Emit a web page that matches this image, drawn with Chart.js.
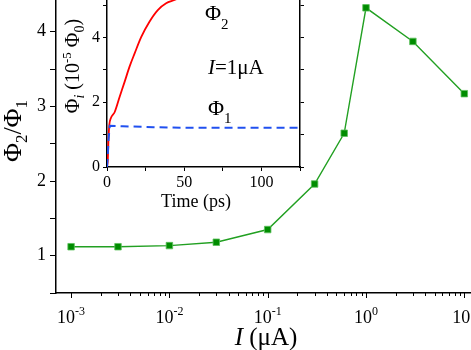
<!DOCTYPE html>
<html>
<head>
<meta charset="utf-8">
<script src="https://cdn.jsdelivr.net/npm/chart.js@4.4.1/dist/chart.umd.min.js"></script>
<style>
  html, body { margin: 0; padding: 0; background: #fff; overflow: hidden; }
  #wrap { position: relative; width: 471px; height: 350px; overflow: hidden; }
  #main { position: absolute; left: 0; top: -11px; }
  #inset { position: absolute; left: 60px; top: -11px; }
</style>
</head>
<body>
<div id="wrap">
  <canvas id="main" width="568" height="361"></canvas>
  <canvas id="inset" width="248" height="230"></canvas>
</div>
<script>
var SERIF = '"Liberation Serif", "Times New Roman", serif';

// main panel: flux ratio vs bias current
var currents = [0.001, 0.003, 0.01, 0.03, 0.1, 0.3, 0.6, 1, 3, 10];
var fluxRatio = [1.12, 1.12, 1.135, 1.18, 1.35, 1.96, 2.64, 4.32, 3.87, 3.17];
var ratioTicks = [0.5, 1, 1.5, 2, 2.5, 3, 3.5, 4, 4.5];
var ratioLabels = ["", "1", "", "2", "", "3", "", "4", ""];
var currentDecades = [-3, -2, -1, 0, 1, 2];

// inset: flux vs time at I = 1 uA
var phi2Time = [0, 0.5, 1, 1.5, 2.4, 5, 8.2, 11.4, 14.6, 17.9, 22.2, 27.5, 32.9, 38.3, 43.7, 50, 60, 75, 100, 125];
var phi2Flux = [0, 0.2, 0.9, 1.3, 1.5, 1.7, 2.17, 2.63, 3.1, 3.51, 4.02, 4.49, 4.85, 5.06, 5.16, 5.3, 5.45, 5.6, 5.7, 5.72];
var phi1Time = [0, 0.5, 1, 1.8, 10, 30, 53, 125];
var phi1Flux = [0, 0.35, 0.85, 1.27, 1.26, 1.23, 1.21, 1.21];
var timeTicks = [0, 25, 50, 75, 100, 125];
var timeLabels = ["0", "", "50", "", "100", ""];
var fluxTicks = [0, 1, 2, 3, 4, 5];
var fluxLabels = ["0", "", "2", "", "4", ""];

function points(xs, ys) {
  return xs.map(function (x, i) { return { x: x, y: ys[i] }; });
}

// force axis sizes so the plot areas land where the figure has them
function fixSize(w, h) {
  return function (scale) {
    if (w !== null) scale.width = w;
    if (h !== null) scale.height = h;
    scale.paddingLeft = scale.paddingRight = scale.paddingTop = scale.paddingBottom = 0;
  };
}

function setTicks(list) {
  return function (scale) {
    scale.ticks = list.map(function (v) { return { value: v }; });
  };
}

// text with sub/superscripts: parts = [{t, size, italic, dy}]
function richText(ctx, parts, x, y, align, angle) {
  ctx.save();
  ctx.translate(x, y);
  if (angle) ctx.rotate(angle);
  ctx.textBaseline = "alphabetic";
  ctx.textAlign = "left";
  ctx.fillStyle = "#000";
  var total = 0;
  parts.forEach(function (p) {
    ctx.font = (p.italic ? "italic " : "") + p.size + "px " + SERIF;
    p.w = ctx.measureText(p.t).width;
    total += p.w;
  });
  var cx = align === "center" ? -total / 2 : 0;
  parts.forEach(function (p) {
    ctx.font = (p.italic ? "italic " : "") + p.size + "px " + SERIF;
    ctx.fillText(p.t, cx, p.dy || 0);
    cx += p.w;
  });
  ctx.restore();
}

var mainDecor = {
  id: "mainDecor",
  afterDraw: function (chart) {
    var ctx = chart.ctx;
    var xs = chart.scales.x;
    var bottom = chart.chartArea.bottom;
    ctx.save();
    ctx.strokeStyle = "#000";
    ctx.lineWidth = 1;
    currentDecades.forEach(function (d) {
      for (var m = 1; m <= 9; m++) {
        var v = m * Math.pow(10, d);
        if (v < xs.min || v > xs.max * 1.0001) continue;
        var px = Math.round(xs.getPixelForValue(v)) + 0.5;
        ctx.beginPath();
        ctx.moveTo(px, bottom);
        ctx.lineTo(px, bottom + (m === 1 ? 5 : 3));
        ctx.stroke();
      }
      var cx = xs.getPixelForValue(Math.pow(10, d));
      richText(ctx, [{ t: "10", size: 18 }, { t: String(d), size: 12, dy: -8 }], cx, 334, "center");
    });
    ctx.restore();

    richText(ctx, [{ t: "I", size: 25, italic: true }, { t: " (\u03bcA)", size: 25 }], 266, 356, "center");
    richText(ctx, [
      { t: "\u03a6", size: 26 }, { t: "2", size: 17, dy: 6 }, { t: "/", size: 26 },
      { t: "\u03a6", size: 26 }, { t: "1", size: 17, dy: 6 }
    ], 21, 142, "center", -Math.PI / 2);
  }
};

var insetDecor = {
  id: "insetDecor",
  afterDraw: function (chart) {
    var ctx = chart.ctx;
    richText(ctx, [{ t: "\u03a6", size: 22 }, { t: "2", size: 15, dy: 9 }], 145, 31, "left");
    richText(ctx, [{ t: "I", size: 21, italic: true }, { t: "=1\u03bcA", size: 21 }], 148, 85, "left");
    richText(ctx, [{ t: "\u03a6", size: 22 }, { t: "1", size: 15, dy: 8 }], 148, 126, "left");
    richText(ctx, [{ t: "Time (ps)", size: 18 }], 136, 218, "center");
    richText(ctx, [
      { t: "\u03a6", size: 20 }, { t: "i", size: 14, italic: true, dy: 5 }, { t: " (10", size: 20 },
      { t: "-5", size: 13, dy: -8 }, { t: " \u03a6", size: 20 }, { t: "0", size: 14, dy: 5 }, { t: ")", size: 20 }
    ], 19, 77, "center", -Math.PI / 2);
  }
};

new Chart(document.getElementById("main"), {
  type: "line",
  data: {
    datasets: [{
      data: points(currents, fluxRatio),
      borderColor: "#22a022",
      borderWidth: 1.4,
      pointStyle: "rect",
      pointRadius: 4.6,
      pointBackgroundColor: "#008c00",
      pointBorderColor: "#5cc05c",
      pointBorderWidth: 0.8,
      tension: 0
    }]
  },
  options: {
    responsive: false,
    animation: false,
    layout: { padding: 0 },
    plugins: { legend: { display: false }, tooltip: { enabled: false } },
    scales: {
      x: {
        type: "logarithmic",
        min: 7.02e-4,
        max: 100,
        grid: { display: false },
        border: { display: true, color: "#000", width: 1.5 },
        ticks: { display: false },
        afterFit: fixSize(null, 57)
      },
      y: {
        min: 0.5,
        max: 4.5,
        afterBuildTicks: setTicks(ratioTicks),
        ticks: {
          callback: function (v, i) { return ratioLabels[i]; },
          font: { family: SERIF, size: 18 },
          color: "#000",
          padding: 4,
          autoSkip: false,
          maxRotation: 0
        },
        grid: { drawOnChartArea: false, tickLength: 6, color: "#000" },
        border: { color: "#000", width: 1.5 },
        afterFit: fixSize(56, null)
      }
    }
  },
  plugins: [mainDecor]
});

new Chart(document.getElementById("inset"), {
  type: "line",
  data: {
    datasets: [{
      data: points(phi1Time, phi1Flux),
      borderColor: "#2050f0",
      borderWidth: 2,
      borderDash: [8, 5],
      pointRadius: 0,
      yAxisID: "y"
    }, {
      data: points(phi2Time, phi2Flux),
      borderColor: "#ff0000",
      borderWidth: 1.8,
      pointRadius: 0,
      cubicInterpolationMode: "monotone",
      yAxisID: "y"
    }]
  },
  options: {
    responsive: false,
    animation: false,
    layout: { padding: 0 },
    plugins: { legend: { display: false }, tooltip: { enabled: false } },
    scales: {
      x: {
        type: "linear",
        min: 0,
        max: 125,
        afterBuildTicks: setTicks(timeTicks),
        ticks: {
          callback: function (v, i) { return timeLabels[i]; },
          font: { family: SERIF, size: 16 },
          color: "#000",
          padding: 2,
          autoSkip: false,
          maxRotation: 0
        },
        grid: { drawOnChartArea: false, tickLength: 4, color: "#000" },
        border: { color: "#000", width: 1.5 },
        afterFit: fixSize(null, 52)
      },
      y: {
        min: 0,
        max: 5.5,
        afterBuildTicks: setTicks(fluxTicks),
        ticks: {
          callback: function (v, i) { return fluxLabels[i]; },
          font: { family: SERIF, size: 16 },
          color: "#000",
          padding: 3,
          autoSkip: false
        },
        grid: { drawOnChartArea: false, tickLength: 4, color: "#000" },
        border: { color: "#000", width: 1.5 },
        afterFit: fixSize(47, null)
      },
      y2: {
        position: "right",
        min: 0,
        max: 5.5,
        afterBuildTicks: setTicks(fluxTicks),
        ticks: { display: false },
        grid: { drawOnChartArea: false, tickLength: 4, color: "#000" },
        border: { color: "#000", width: 1.5 },
        afterFit: fixSize(8, null)
      }
    }
  },
  plugins: [insetDecor]
});
</script>
</body>
</html>
